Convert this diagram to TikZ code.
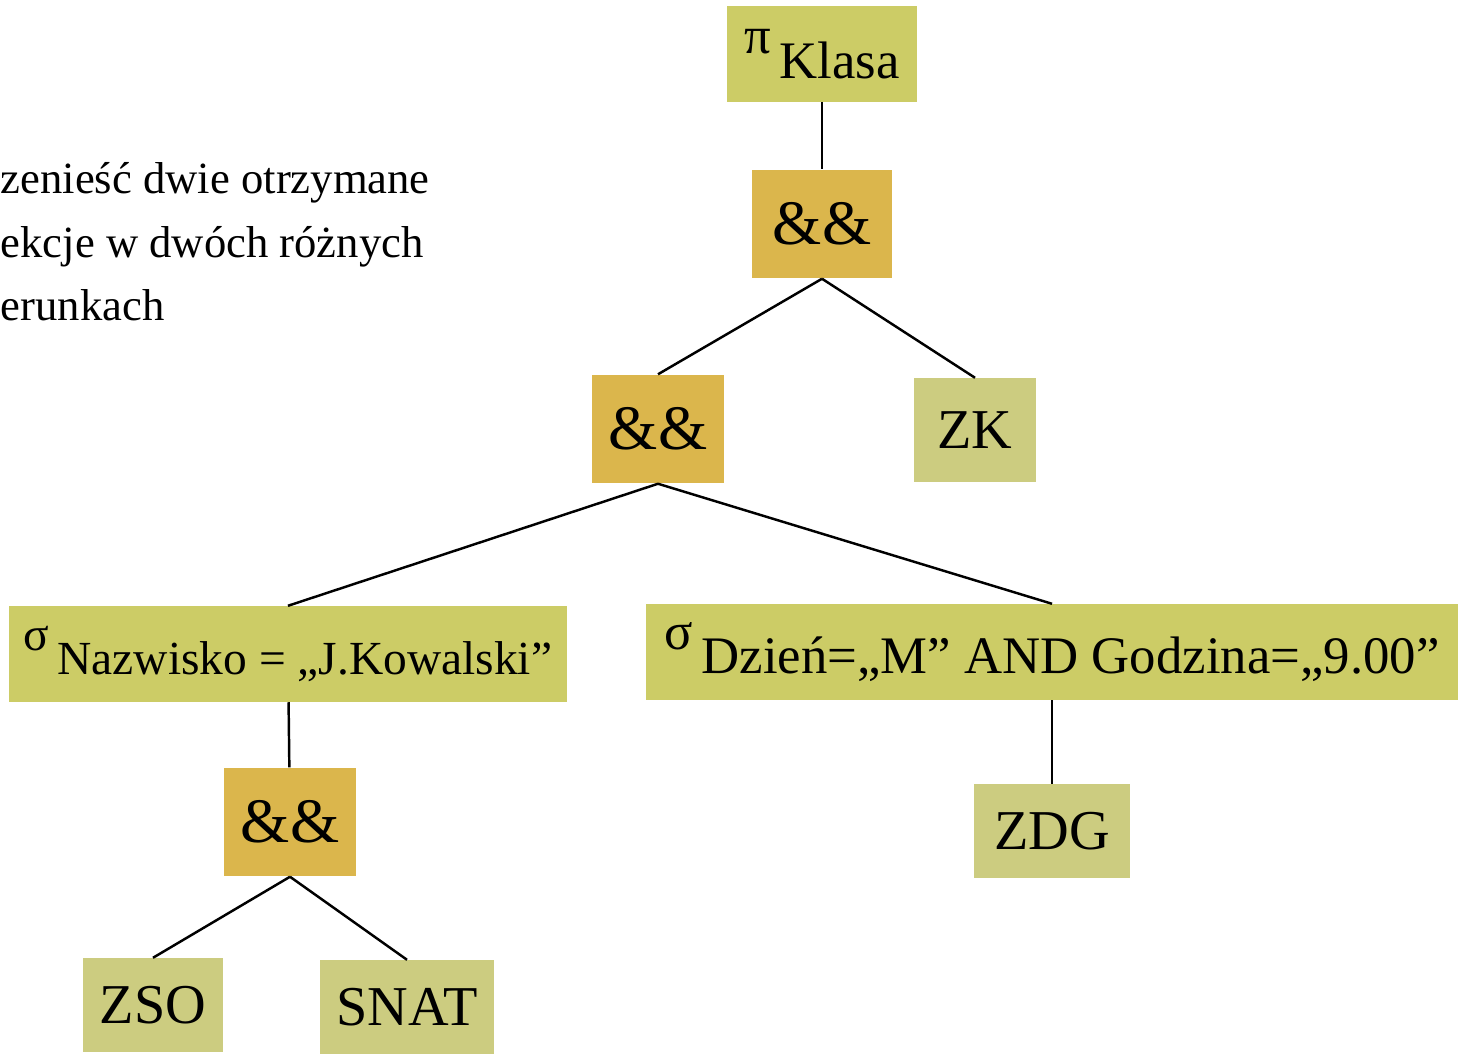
\documentclass[tikz,border=0pt]{standalone}
\usepackage{fontspec}
\setmainfont{Liberation Serif}
\definecolor{relolive}{RGB}{204,204,102}
\definecolor{tabkhaki}{RGB}{204,204,128}
\definecolor{opgold}{RGB}{219,182,76}

\begin{document}
\begin{tikzpicture}[x=0.01cm, y=-0.01cm,
    relbox/.style={fill=relolive, inner sep=0pt},
    opbox/.style={fill=opgold, inner sep=0pt, minimum width=1.32cm, minimum height=1.08cm, font=\fontsize{18}{20}\selectfont},
    tabbox/.style={fill=tabkhaki, inner sep=0pt, minimum height=0.93cm, font=\fontsize{16}{18}\selectfont},
    edge/.style={line width=0.7pt}]
          \useasboundingbox (0,0) rectangle (1458,1054);

          % Text on the left (cut off)
          \node[anchor=north west, align=left, inner sep=0pt, font=\fontsize{12.7}{18}\selectfont] (note) at (0,162)
            {zenieść dwie otrzymane\\ekcje w dwóch różnych\\erunkach};

          % Projection and selections (olive boxes)
          \node[relbox, minimum width=1.9cm, minimum height=0.95cm, font=\fontsize{15}{17}\selectfont] (proj) at (822,54) {\raisebox{7pt}{π}\,Klasa};
          \node[relbox, minimum width=5.58cm, minimum height=0.95cm, font=\fontsize{13.5}{16}\selectfont] (selN) at (288,654) {\raisebox{7pt}{σ}\,Nazwisko = „J.Kowalski”};
          \node[relbox, minimum width=8.12cm, minimum height=0.95cm, font=\fontsize{15}{17}\selectfont] (selD) at (1052,652) {\raisebox{7pt}{σ}\,Dzień=„M” AND Godzina=„9.00”};

          % Joins (gold boxes)
          \node[opbox, minimum width=1.39cm] (and1) at (822,224) {\&\&};
          \node[opbox] (and2) at (658,429) {\&\&};
          \node[opbox] (and3) at (290,822) {\&\&};

          % Tables (khaki boxes)
          \node[tabbox, minimum width=1.21cm, minimum height=1.03cm] (zk) at (975,430) {ZK};
          \node[tabbox, minimum width=1.55cm] (zdg) at (1052,831) {ZDG};
          \node[tabbox, minimum width=1.39cm] (zso) at (153,1005) {ZSO};
          \node[tabbox, minimum width=1.73cm] (snat) at (407,1007) {SNAT};

          % Edges
          \draw[edge] (proj) -- (and1);
          \draw[edge] (and1.south) -- (and2.north);
          \draw[edge] (and1.south) -- (zk.north);
          \draw[edge] (and2.south) -- (selN.north);
          \draw[edge] (and2.south) -- (selD.north);
          \draw[edge] (selN) -- (and3);
          \draw[edge] (and3.south) -- (zso.north);
          \draw[edge] (and3.south) -- (snat.north);
          \draw[edge] (selD) -- (zdg);
        \end{tikzpicture}
\end{document}
